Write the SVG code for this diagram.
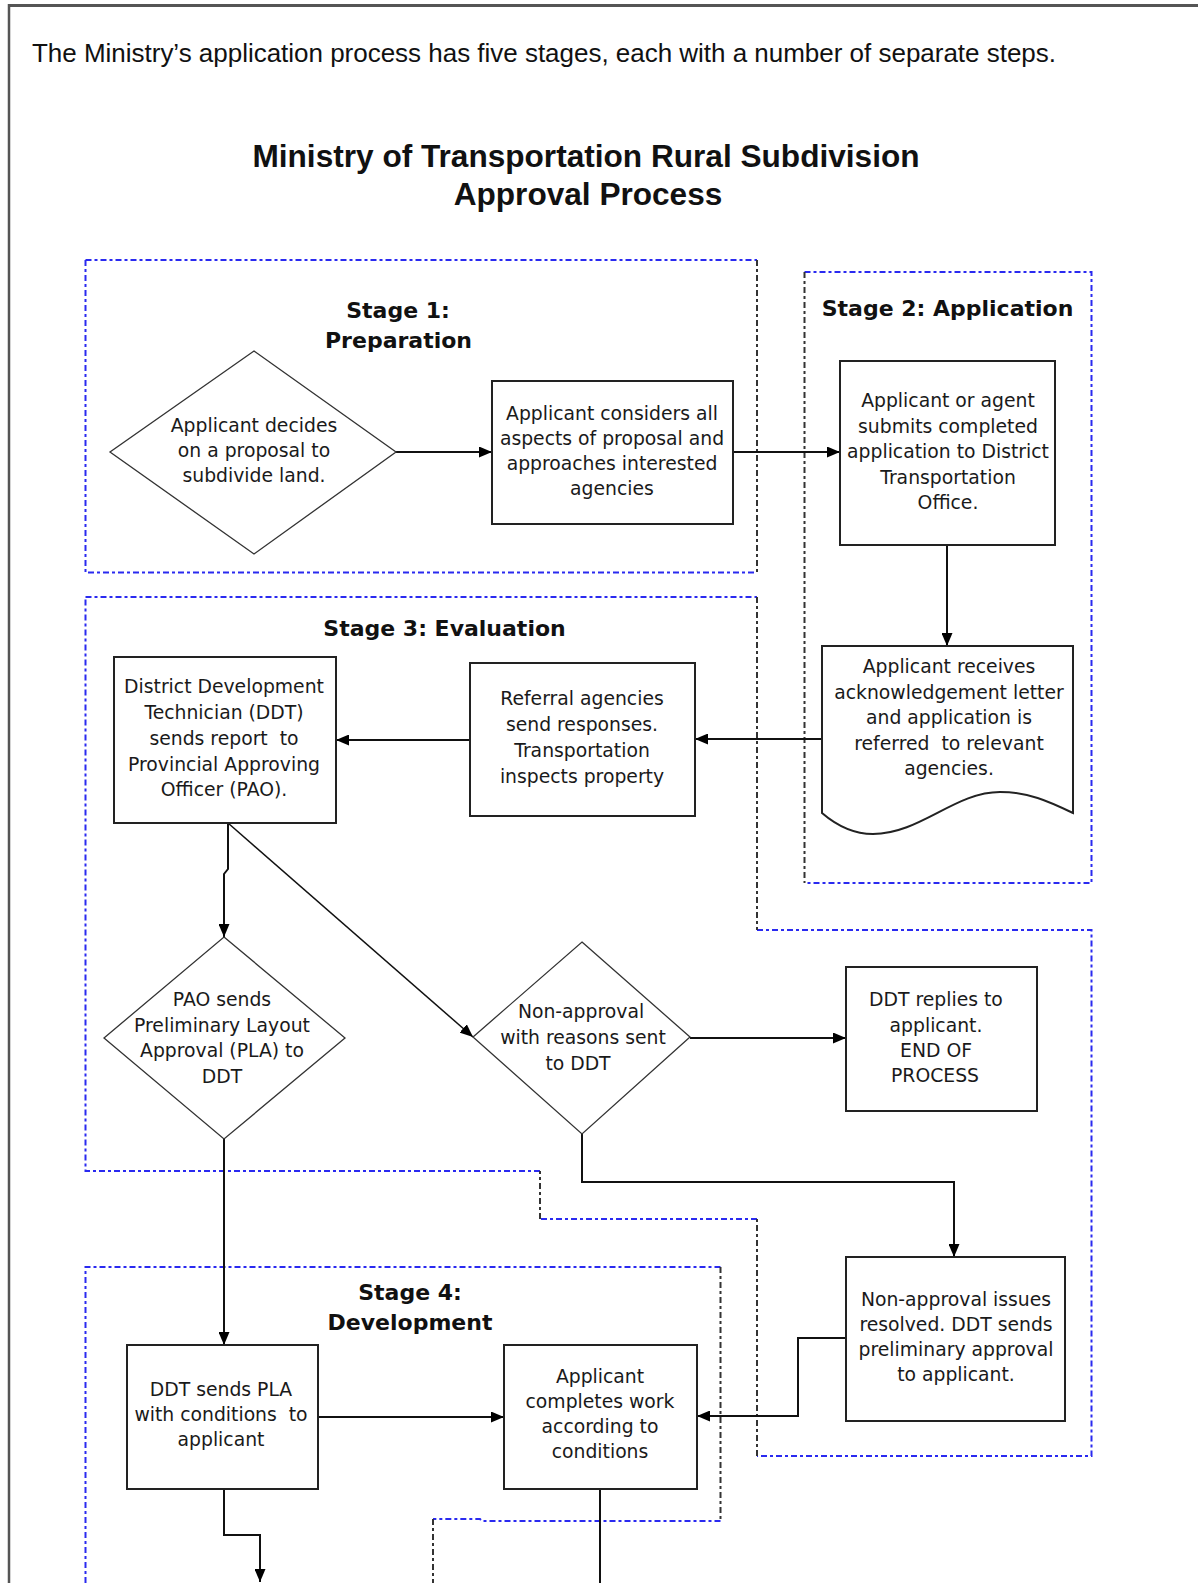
<svg xmlns="http://www.w3.org/2000/svg" width="1198" height="1583" viewBox="0 0 1198 1583">
<defs>
<style>
.frame{fill:none;stroke:#555;}
.intro{font-family:"Liberation Sans",Arial,sans-serif;font-size:26px;fill:#111;}
.title{font-family:"Liberation Sans",Arial,sans-serif;font-size:31.6px;font-weight:bold;fill:#111;text-anchor:middle;}
.stage{font-family:"DejaVu Sans",Verdana,sans-serif;font-size:22px;font-weight:bold;fill:#111;text-anchor:middle;}
.lbl{font-family:"DejaVu Sans",Verdana,sans-serif;font-size:18.8px;fill:#1a1a1a;text-anchor:middle;}
.box{fill:#fff;stroke:#222;stroke-width:2;}
.dia{fill:#fff;stroke:#333;stroke-width:1.3;}
.sb{fill:none;stroke:#2a2af0;stroke-width:2;stroke-dasharray:6 3 3 3;}
.sk{fill:none;stroke:#333;stroke-width:2;stroke-dasharray:6 3 3 3;}
.con{fill:none;stroke:#111;stroke-width:2;}
.thin{fill:none;stroke:#111;stroke-width:1.5;}
</style>
<marker id="ah" markerUnits="userSpaceOnUse" markerWidth="13" markerHeight="11" refX="13" refY="5.5" orient="auto">
<path d="M0,0 L13,5.5 L0,11 Z" fill="#000"/>
</marker>
</defs>
<rect x="0" y="0" width="1198" height="1583" fill="#fff"/>
<g id="frame">
<line class="frame" x1="8" y1="5.5" x2="1198" y2="5.5" stroke-width="3"/>
<line class="frame" x1="9" y1="4" x2="9" y2="1583" stroke-width="2.5" stroke="#444"/>
</g>
<text id="intro" class="intro" x="32" y="62" textLength="1024" lengthAdjust="spacing">The Ministry’s application process has five stages, each with a number of separate steps.</text>
<g id="title">
<text class="title" x="586" y="167">Ministry of Transportation Rural Subdivision</text>
<text class="title" x="588" y="205">Approval Process</text>
</g>
<g id="stage1">
<path class="sb" d="M85.5,260 H757 M85.5,260 V572.5 H757"/>
<path class="sk" d="M757,260 V572.5"/>
<text class="stage" x="398" y="318">Stage 1:</text>
<text class="stage" x="398.5" y="348">Preparation</text>
</g>
<g id="stage2">
<path class="sb" d="M804.5,272 H1091.5 V883 H804.5"/>
<path class="sk" d="M804.5,272 V883"/>
<text class="stage" x="947.5" y="316">Stage 2: Application</text>
</g>
<g id="stage3">
<path class="sb" d="M85.5,597 H757 M757,930 H1091.5 V1456 H757 M757,1219 H540 M540,1171 H85.5 V597"/>
<path class="sk" d="M757,597 V930 M757,1456 V1219 M540,1219 V1171"/>
<text class="stage" x="444.5" y="636">Stage 3: Evaluation</text>
</g>
<g id="stage4">
<path class="sb" d="M85.5,1583 V1267 H720.5 M720.5,1521 H482 L480,1519 H433"/>
<path class="sk" d="M720.5,1267 V1521 M433,1519 V1583"/>
<text class="stage" x="410" y="1300">Stage 4:</text>
<text class="stage" x="410" y="1330">Development</text>
</g>
<g id="connectors">
<path class="con" d="M396,452 H492" marker-end="url(#ah)"/>
<path class="con" d="M733,452 H840" marker-end="url(#ah)"/>
<path class="con" d="M947,545 V646" marker-end="url(#ah)"/>
<path class="con" d="M822,739 H695" marker-end="url(#ah)"/>
<path class="con" d="M470,740 H336" marker-end="url(#ah)"/>
<path class="con" d="M228,823 V869 L224,874 V937" marker-end="url(#ah)"/>
<path class="thin" d="M228,823 L473,1037" marker-end="url(#ah)"/>
<path class="con" d="M690,1038 H846" marker-end="url(#ah)"/>
<path class="con" d="M582,1134 V1182 H954 V1257" marker-end="url(#ah)"/>
<path class="con" d="M846,1338 H798 V1416 H697" marker-end="url(#ah)"/>
<path class="con" d="M224,1139 V1345" marker-end="url(#ah)"/>
<path class="con" d="M318,1417 H504" marker-end="url(#ah)"/>
<path class="con" d="M224,1489 V1535 H260 V1582" marker-end="url(#ah)"/>
<path class="con" d="M600,1489 V1583"/>
</g>
<g id="n-decide">
<polygon class="dia" points="254,351 396,452 254,554 110,452"/>
<text class="lbl"><tspan x="254" y="432">Applicant decides</tspan><tspan x="254" y="457">on a proposal to</tspan><tspan x="254" y="482">subdivide land.</tspan></text>
</g>
<g id="n-considers">
<rect class="box" x="492" y="381" width="241" height="143"/>
<text class="lbl"><tspan x="612" y="420">Applicant considers all</tspan><tspan x="612" y="445">aspects of proposal and</tspan><tspan x="612" y="470">approaches interested</tspan><tspan x="612" y="495">agencies</tspan></text>
</g>
<g id="n-submits">
<rect class="box" x="840" y="361" width="215" height="184"/>
<text class="lbl"><tspan x="948" y="407">Applicant or agent</tspan><tspan x="948" y="432.5">submits completed</tspan><tspan x="948" y="458">application to District</tspan><tspan x="948" y="483.5">Transportation</tspan><tspan x="948" y="509">Office.</tspan></text>
</g>
<g id="n-receives">
<path class="box" d="M822,646 H1073 V813 C1048,801 1028,792 1000,792 C955,792 920,834 873,834 C852,834 836,825 822,813 Z"/>
<text class="lbl" xml:space="preserve"><tspan x="949" y="673">Applicant receives</tspan><tspan x="949" y="698.5">acknowledgement letter</tspan><tspan x="949" y="724">and application is</tspan><tspan x="949" y="749.5">referred  to relevant</tspan><tspan x="949" y="775">agencies.</tspan></text>
</g>
<g id="n-referral">
<rect class="box" x="470" y="663" width="225" height="153"/>
<text class="lbl"><tspan x="582" y="705">Referral agencies</tspan><tspan x="582" y="731">send responses.</tspan><tspan x="582" y="757">Transportation</tspan><tspan x="582" y="783">inspects property</tspan></text>
</g>
<g id="n-ddt-report">
<rect class="box" x="114" y="657" width="222" height="166"/>
<text class="lbl" xml:space="preserve"><tspan x="224" y="693">District Development</tspan><tspan x="224" y="719">Technician (DDT)</tspan><tspan x="224" y="745">sends report  to</tspan><tspan x="224" y="771">Provincial Approving</tspan><tspan x="224" y="796">Officer (PAO).</tspan></text>
</g>
<g id="n-pao">
<polygon class="dia" points="224,937 345,1038 224,1139 104,1038"/>
<text class="lbl"><tspan x="222" y="1006">PAO sends</tspan><tspan x="222" y="1031.5">Preliminary Layout</tspan><tspan x="222" y="1057">Approval (PLA) to</tspan><tspan x="222" y="1082.5">DDT</tspan></text>
</g>
<g id="n-nonapproval">
<polygon class="dia" points="582,942 690,1037 582,1134 473,1037"/>
<text class="lbl"><tspan x="581" y="1018">Non-approval</tspan><tspan x="583" y="1044">with reasons sent</tspan><tspan x="578" y="1070">to DDT</tspan></text>
</g>
<g id="n-replies">
<rect class="box" x="846" y="967" width="191" height="144"/>
<text class="lbl"><tspan x="936" y="1006">DDT replies to</tspan><tspan x="936" y="1032">applicant.</tspan><tspan x="936" y="1057">END OF</tspan><tspan x="935" y="1082">PROCESS</tspan></text>
</g>
<g id="n-resolved">
<rect class="box" x="846" y="1257" width="219" height="164"/>
<text class="lbl"><tspan x="956" y="1306">Non-approval issues</tspan><tspan x="956" y="1331">resolved. DDT sends</tspan><tspan x="956" y="1356">preliminary approval</tspan><tspan x="956" y="1381">to applicant.</tspan></text>
</g>
<g id="n-pla">
<rect class="box" x="127" y="1345" width="191" height="144"/>
<text class="lbl" xml:space="preserve"><tspan x="221" y="1396">DDT sends PLA</tspan><tspan x="221" y="1421">with conditions  to</tspan><tspan x="221" y="1446">applicant</tspan></text>
</g>
<g id="n-completes">
<rect class="box" x="504" y="1345" width="193" height="144"/>
<text class="lbl"><tspan x="600" y="1383">Applicant</tspan><tspan x="600" y="1408">completes work</tspan><tspan x="600" y="1433">according to</tspan><tspan x="600" y="1458">conditions</tspan></text>
</g>
</svg>
